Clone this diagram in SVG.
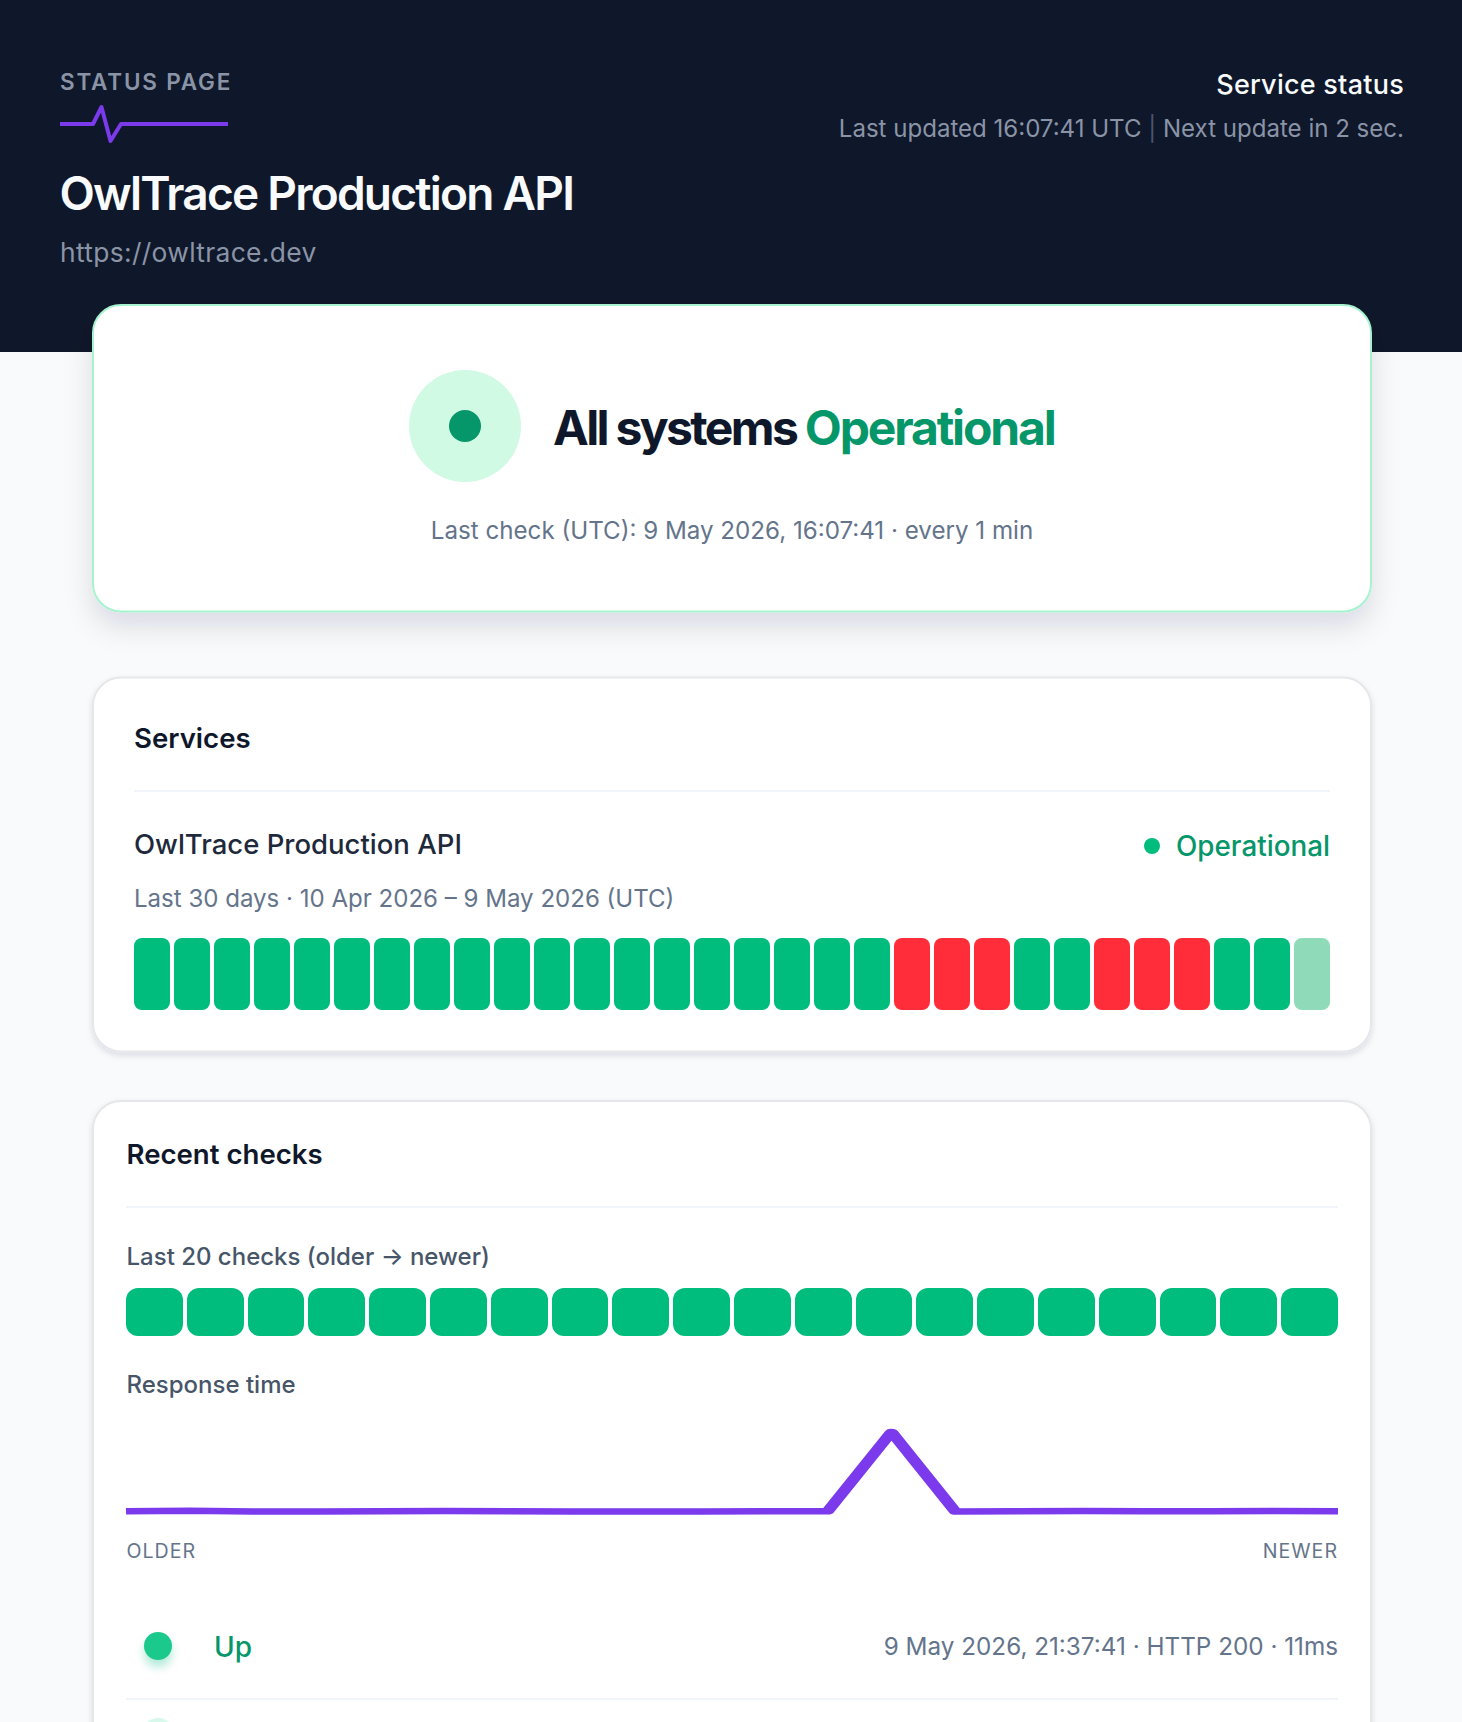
<svg xmlns="http://www.w3.org/2000/svg" width="1462" height="1722" viewBox="0 0 1462 1722">
<defs>
<style>
text{font-family:Inter,"Liberation Sans",sans-serif}
.g{fill:#00bc7d}.r{fill:#ff2d3a}.l{fill:#8fdbb9}
.card{fill:#fff;stroke:#e5e7eb;stroke-width:2}
.div{stroke:#f1f5f9;stroke-width:2}
.h{font-size:27.6px;font-weight:600;fill:#0f172a}
.lab{font-size:24px;font-weight:500;fill:#475569}
.mut{font-size:24.05px;fill:#64748b}
.ax{font-size:19.6px;fill:#64748b;letter-spacing:1px}
</style>
<filter id="s1" x="-10%" y="-20%" width="120%" height="150%"><feDropShadow dx="0" dy="14" stdDeviation="14" flood-color="#0f172a" flood-opacity=".12"/></filter>
<filter id="s2" x="-5%" y="-5%" width="110%" height="115%"><feDropShadow dx="0" dy="3" stdDeviation="3" flood-color="#0f172a" flood-opacity=".12"/></filter>
<filter id="s3" x="-100%" y="-100%" width="300%" height="300%"><feDropShadow dx="0" dy="7" stdDeviation="5" flood-color="#10b981" flood-opacity=".3"/></filter>
</defs>
<rect width="1462" height="1722" fill="#f8fafc"/>
<g id="header">
<rect width="1462" height="352" fill="#0f172a"/>
<text x="60" y="90" font-size="22.5" font-weight="600" letter-spacing="1.8" fill="#8a94a6">STATUS PAGE</text>
<path d="M60 124H93L101.500 107L110.500 141L121 124H228" fill="none" stroke="#7c3aed" stroke-width="4" stroke-linejoin="round"/>
<text x="59.500" y="210" font-size="46" font-weight="600" letter-spacing="-1.76" fill="#f8fafc">OwlTrace Production API</text>
<text x="60" y="261.500" font-size="26.4" letter-spacing=".33" fill="#8a94a6">https://owltrace.dev</text>
<text x="1404" y="94" font-size="27" font-weight="500" letter-spacing=".25" fill="#f8fafc" text-anchor="end">Service status</text>
<text x="1404" y="137" font-size="24.05" fill="#8a94a6" text-anchor="end">Last updated 16:07:41 UTC <tspan fill="#4b566a">|</tspan> Next update in 2 sec.</text>
</g>
<g id="hero">
<rect class="card" x="93" y="305" width="1278" height="306.500" rx="28" style="stroke:#a7f3d0" filter="url(#s1)"/>
<circle cx="465" cy="426" r="56" fill="#d1fae5"/>
<circle cx="465" cy="426" r="16" fill="#059669"/>
<text x="553" y="444.500" font-size="48" font-weight="700" letter-spacing="-2.65" fill="#0f172a">All systems <tspan fill="#059669" letter-spacing="-2.15">Operational</tspan></text>
<text x="732" y="539" font-size="24.15" fill="#64748b" text-anchor="middle">Last check (UTC): 9 May 2026, 16:07:41 · every 1 min</text>
</g>
<g id="services">
<rect class="card" x="93" y="677.500" width="1278" height="374" rx="28" filter="url(#s2)"/>
<text x="134" y="748" class="h">Services</text>
<line class="div" x1="134" x2="1330" y1="791" y2="791"/>
<text x="134" y="854" font-size="27.5" font-weight="500" fill="#1e293b">OwlTrace Production API</text>
<text x="134" y="907" class="mut">Last 30 days · 10 Apr 2026 – 9 May 2026 (UTC)</text>
<circle cx="1152" cy="846" r="8" fill="#00bc7d"/>
<text x="1330" y="856" font-size="27.8" font-weight="500" fill="#059669" text-anchor="end">Operational</text>
<g id="uptime-bars">
<rect class="g" x="134" y="938" width="36" height="72" rx="8"/><rect class="g" x="174" y="938" width="36" height="72" rx="8"/><rect class="g" x="214" y="938" width="36" height="72" rx="8"/><rect class="g" x="254" y="938" width="36" height="72" rx="8"/><rect class="g" x="294" y="938" width="36" height="72" rx="8"/><rect class="g" x="334" y="938" width="36" height="72" rx="8"/><rect class="g" x="374" y="938" width="36" height="72" rx="8"/><rect class="g" x="414" y="938" width="36" height="72" rx="8"/><rect class="g" x="454" y="938" width="36" height="72" rx="8"/><rect class="g" x="494" y="938" width="36" height="72" rx="8"/><rect class="g" x="534" y="938" width="36" height="72" rx="8"/><rect class="g" x="574" y="938" width="36" height="72" rx="8"/><rect class="g" x="614" y="938" width="36" height="72" rx="8"/><rect class="g" x="654" y="938" width="36" height="72" rx="8"/><rect class="g" x="694" y="938" width="36" height="72" rx="8"/><rect class="g" x="734" y="938" width="36" height="72" rx="8"/><rect class="g" x="774" y="938" width="36" height="72" rx="8"/><rect class="g" x="814" y="938" width="36" height="72" rx="8"/><rect class="g" x="854" y="938" width="36" height="72" rx="8"/><rect class="r" x="894" y="938" width="36" height="72" rx="8"/><rect class="r" x="934" y="938" width="36" height="72" rx="8"/><rect class="r" x="974" y="938" width="36" height="72" rx="8"/><rect class="g" x="1014" y="938" width="36" height="72" rx="8"/><rect class="g" x="1054" y="938" width="36" height="72" rx="8"/><rect class="r" x="1094" y="938" width="36" height="72" rx="8"/><rect class="r" x="1134" y="938" width="36" height="72" rx="8"/><rect class="r" x="1174" y="938" width="36" height="72" rx="8"/><rect class="g" x="1214" y="938" width="36" height="72" rx="8"/><rect class="g" x="1254" y="938" width="36" height="72" rx="8"/><rect class="l" x="1294" y="938" width="36" height="72" rx="8"/>
</g>
</g>
<g id="recent">
<rect class="card" x="93" y="1101" width="1278" height="700" rx="28" filter="url(#s2)"/>
<text x="126.500" y="1164" class="h">Recent checks</text>
<line class="div" x1="126" x2="1338" y1="1207" y2="1207"/>
<text x="126.500" y="1265" class="lab">Last 20 checks (older → newer)</text>
<g id="check-bars">
<rect class="g" x="126" y="1288" width="57" height="48" rx="12"/><rect class="g" x="187" y="1288" width="57" height="48" rx="12"/><rect class="g" x="248" y="1288" width="56" height="48" rx="12"/><rect class="g" x="308" y="1288" width="57" height="48" rx="12"/><rect class="g" x="369" y="1288" width="57" height="48" rx="12"/><rect class="g" x="430" y="1288" width="57" height="48" rx="12"/><rect class="g" x="491" y="1288" width="57" height="48" rx="12"/><rect class="g" x="552" y="1288" width="56" height="48" rx="12"/><rect class="g" x="612" y="1288" width="57" height="48" rx="12"/><rect class="g" x="673" y="1288" width="57" height="48" rx="12"/><rect class="g" x="734" y="1288" width="57" height="48" rx="12"/><rect class="g" x="795" y="1288" width="57" height="48" rx="12"/><rect class="g" x="856" y="1288" width="56" height="48" rx="12"/><rect class="g" x="916" y="1288" width="57" height="48" rx="12"/><rect class="g" x="977" y="1288" width="57" height="48" rx="12"/><rect class="g" x="1038" y="1288" width="57" height="48" rx="12"/><rect class="g" x="1099" y="1288" width="57" height="48" rx="12"/><rect class="g" x="1160" y="1288" width="56" height="48" rx="12"/><rect class="g" x="1220" y="1288" width="57" height="48" rx="12"/><rect class="g" x="1281" y="1288" width="57" height="48" rx="12"/>
</g>
<text x="126.500" y="1393" class="lab">Response time</text>
<g id="connectors">
<polyline transform="translate(126 0) scale(2 1)" fill="none" stroke="#7c3aed" stroke-width="6.500" stroke-linejoin="round" points="0,1511.300 31.900,1510.700 63.800,1511.400 95.700,1511.600 127.600,1511.200 159.500,1511 191.400,1511.200 223.300,1511.600 255.200,1511.500 287.100,1511.400 319,1511.300 350.850,1511.300 382.750,1432 414.650,1511.500 446.500,1511.300 478.400,1511 510.300,1511.200 542.200,1511.300 574.100,1511.100 606,1511.300"/>
</g>
<text x="126.500" y="1558" class="ax">OLDER</text>
<text x="1338" y="1558" class="ax" text-anchor="end">NEWER</text>
<g id="row-up">
<circle cx="158" cy="1646" r="14" fill="#1fc98c" filter="url(#s3)"/>
<text x="214" y="1657" font-size="28" font-weight="500" fill="#059669">Up</text>
<text x="1338" y="1655" font-size="24.27" fill="#64748b" text-anchor="end">9 May 2026, 21:37:41 · HTTP 200 · 11ms</text>
<line class="div" x1="126" x2="1338" y1="1699" y2="1699"/>
</g>
<g id="row-next">
<circle cx="158" cy="1734" r="16" fill="#c7f5e3" opacity=".7"/>
</g>
</g>
</svg>
